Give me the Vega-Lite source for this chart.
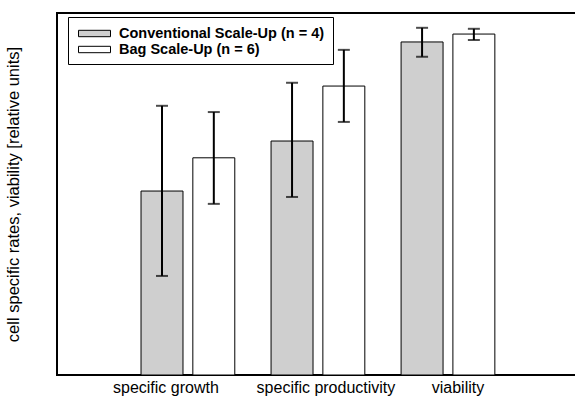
{
  "$schema": "https://vega.github.io/schema/vega-lite/v6.json",
  "autosize": "none",
  "padding": {"left": 57, "top": 13, "right": 0, "bottom": 25},
  "width": 530,
  "height": 362,
  "background": "white",
  "config": {
    "font": "Liberation Sans",
    "view": {"stroke": "black", "strokeWidth": 2}
  },
  "data": {
    "values": [
      {"measure": "specific growth", "series": "Conventional Scale-Up (n = 4)", "value": 0.559, "lo": 0.301, "hi": 0.818},
      {"measure": "specific growth", "series": "Bag Scale-Up (n = 6)", "value": 0.660, "lo": 0.520, "hi": 0.799},
      {"measure": "specific productivity", "series": "Conventional Scale-Up (n = 4)", "value": 0.711, "lo": 0.541, "hi": 0.888},
      {"measure": "specific productivity", "series": "Bag Scale-Up (n = 6)", "value": 0.878, "lo": 0.769, "hi": 0.988},
      {"measure": "viability", "series": "Conventional Scale-Up (n = 4)", "value": 1.012, "lo": 0.967, "hi": 1.055},
      {"measure": "viability", "series": "Bag Scale-Up (n = 6)", "value": 1.036, "lo": 1.018, "hi": 1.052}
    ]
  },
  "encoding": {
    "x": {
      "field": "measure",
      "type": "nominal",
      "sort": ["specific growth", "specific productivity", "viability"],
      "scale": {"paddingInner": 0, "paddingOuter": 0.538, "align": 0.471},
      "axis": {"title": null, "labelAngle": 0, "domain": false, "ticks": false, "labelFontSize": 16, "labelColor": "black", "labelPadding": 4,
        "labelOffset": {"expr": "datum.value === 'specific growth' ? -22 : (datum.value === 'specific productivity' ? 8 : 10)"}}
    },
    "xOffset": {
      "field": "series",
      "type": "nominal",
      "sort": ["Conventional Scale-Up (n = 4)", "Bag Scale-Up (n = 6)"],
      "scale": {"paddingInner": 0.19, "paddingOuter": 0.35}
    }
  },
  "layer": [
    {
      "mark": {"type": "bar", "stroke": "black", "strokeWidth": 1},
      "encoding": {
        "y": {
          "field": "value",
          "type": "quantitative",
          "scale": {"domain": [0, 1.1], "nice": false},
          "axis": {"title": "cell specific rates, viability [relative units]", "labels": false, "ticks": false, "grid": false, "domain": false, "titleFontSize": 16.5, "titleFontWeight": "normal", "titleColor": "black", "titlePadding": 36}
        },
        "fill": {
          "field": "series",
          "type": "nominal",
          "sort": ["Conventional Scale-Up (n = 4)", "Bag Scale-Up (n = 6)"],
          "scale": {"domain": ["Conventional Scale-Up (n = 4)", "Bag Scale-Up (n = 6)"], "range": ["#cfcfcf", "white"]},
          "legend": {
            "title": null,
            "orient": "none",
            "legendX": 11,
            "legendY": 4,
            "direction": "vertical",
            "strokeColor": "black",
            "fillColor": "white",
            "padding": 8,
            "symbolType": "M-2,-0.4H2V0.4H-2Z",
            "symbolSize": 256,
            "symbolOffset": 10,
            "symbolStrokeColor": "black",
            "symbolStrokeWidth": 1,
            "labelFontSize": 14.5,
            "labelFontWeight": "bold",
            "labelColor": "black",
            "labelOffset": 16,
            "rowPadding": 1,
            "labelLimit": 300
          }
        }
      }
    },
    {
      "mark": {"type": "rule", "color": "black", "strokeWidth": 2},
      "encoding": {
        "y": {"field": "lo", "type": "quantitative"},
        "y2": {"field": "hi"}
      }
    },
    {
      "mark": {"type": "tick", "color": "black", "thickness": 2, "size": 12},
      "encoding": {"y": {"field": "lo", "type": "quantitative"}}
    },
    {
      "mark": {"type": "tick", "color": "black", "thickness": 2, "size": 12},
      "encoding": {"y": {"field": "hi", "type": "quantitative"}}
    }
  ]
}
